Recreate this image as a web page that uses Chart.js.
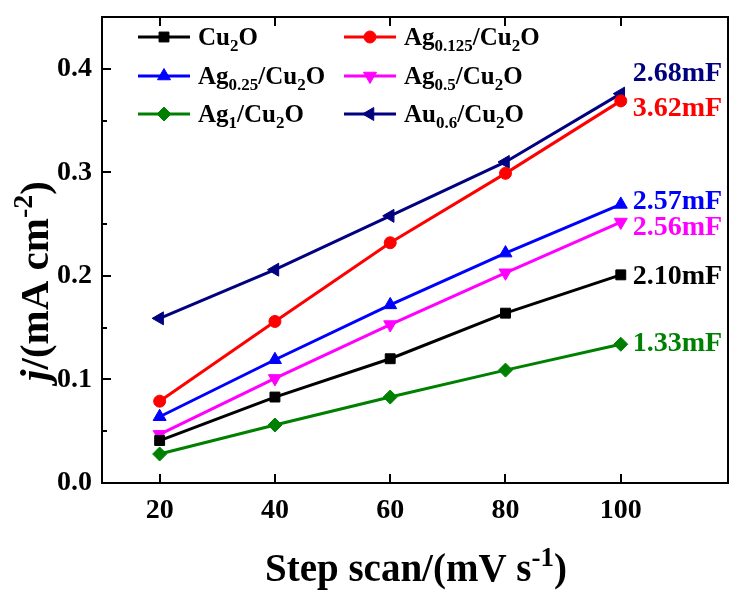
<!DOCTYPE html>
<html>
<head>
<meta charset="utf-8">
<script src="https://cdn.jsdelivr.net/npm/chart.js@4.4.1/dist/chart.umd.min.js"></script>
<style>
  html, body { margin: 0; padding: 0; background: #fff; }
  #wrap { width: 729px; height: 590px; position: relative; }
</style>
</head>
<body>
<div id="wrap"><canvas id="cvChart"></canvas></div>
<script>
// scan rates (mV/s)
const scanRates = [20, 40, 60, 80, 100];

// current density j (mA cm-2)
const cu2o    = [0.041, 0.083, 0.120, 0.164, 0.201];
const ag0125  = [0.079, 0.156, 0.232, 0.299, 0.369];
const ag025   = [0.064, 0.119, 0.172, 0.222, 0.269];
const ag05    = [0.047, 0.101, 0.153, 0.203, 0.252];
const ag1     = [0.028, 0.056, 0.083, 0.109, 0.134];
const au06    = [0.159, 0.206, 0.258, 0.310, 0.376];

const seriesNames = ['Cu_{2}O', 'Ag_{0.125}/Cu_{2}O', 'Ag_{0.25}/Cu_{2}O', 'Ag_{0.5}/Cu_{2}O', 'Ag_{1}/Cu_{2}O', 'Au_{0.6}/Cu_{2}O'];
const capLabels = ['2.10mF', '3.62mF', '2.57mF', '2.56mF', '1.33mF', '2.68mF'];

const xTicks = [20, 40, 60, 80, 100];
const yTicks = [0, 0.1, 0.2, 0.3, 0.4];
const yMinorTicks = [0.05, 0.15, 0.25, 0.35];

const FONT = '"Liberation Serif", "Times New Roman", serif';

const styles = [
	{ color: '#000000', pointStyle: 'rect', radius: 7, rotation: 0 },
	{ color: '#ff0000', pointStyle: 'circle', radius: 6, rotation: 0 },
	{ color: '#0000ff', pointStyle: 'triangle', radius: 7.5, rotation: 0 },
	{ color: '#ff00ff', pointStyle: 'triangle', radius: 7.5, rotation: 180 },
	{ color: '#008000', pointStyle: 'rectRot', radius: 7, rotation: 0 },
	{ color: '#000080', pointStyle: 'triangle', radius: 7.5, rotation: 270 },
];
const capOffsets = [0, 6, -5, 4, -2, -22];

const allSeries = [cu2o, ag0125, ag025, ag05, ag1, au06];

// parse "Cu_{2}O", "^{-2}", "*j*" into runs
function parseRich( str ) {
	const runs = [];
	const re = /_\{([^}]*)\}|\^\{([^}]*)\}|\*([^*]*)\*|([^_^*]+)/g;
	let m;
	while ( ( m = re.exec( str ) ) !== null ) {
		if ( m[1] !== undefined ) runs.push( { t: m[1], mode: 'sub' } );
		else if ( m[2] !== undefined ) runs.push( { t: m[2], mode: 'sup' } );
		else if ( m[3] !== undefined ) runs.push( { t: m[3], mode: 'it' } );
		else runs.push( { t: m[4], mode: '' } );
	}
	return runs;
}

function runFont( run, size ) {
	const s = run.mode === 'sub' || run.mode === 'sup' ? Math.round( size * 0.68 ) : size;
	return ( run.mode === 'it' ? 'italic ' : '' ) + 'bold ' + s + 'px ' + FONT;
}

// draws rich text; y is the vertical middle of capitals
function drawRich( ctx, str, x, y, size, color, align ) {
	const runs = parseRich( str );
	let total = 0;
	runs.forEach( ( r ) => {
		ctx.font = runFont( r, size );
		r.w = ctx.measureText( r.t ).width;
		total += r.w;
	} );
	let cx = align === 'center' ? x - total / 2 : x;
	const base = y + size * 0.33;
	ctx.fillStyle = color;
	ctx.textAlign = 'left';
	ctx.textBaseline = 'alphabetic';
	runs.forEach( ( r ) => {
		ctx.font = runFont( r, size );
		let dy = 0;
		if ( r.mode === 'sub' ) dy = size * 0.22;
		if ( r.mode === 'sup' ) dy = -size * 0.38;
		ctx.fillText( r.t, cx, base + dy );
		cx += r.w;
	} );
}

const decor = {
	id: 'decor',
	afterDraw( chart ) {
		const { ctx, chartArea: a } = chart;
		const xs = chart.scales.x;
		const ys = chart.scales.y;
		ctx.save();
		ctx.strokeStyle = '#000';
		ctx.lineWidth = 2;
		ctx.strokeRect( a.left, a.top, a.right - a.left, a.bottom - a.top );

		// inward tick marks
		ctx.beginPath();
		xTicks.forEach( ( v ) => {
			const px = Math.round( xs.getPixelForValue( v ) );
			ctx.moveTo( px, a.bottom );
			ctx.lineTo( px, a.bottom - 9 );
			ctx.moveTo( px, a.top );
			ctx.lineTo( px, a.top + 9 );
		} );
		yTicks.forEach( ( v ) => {
			const py = Math.round( ys.getPixelForValue( v ) );
			ctx.moveTo( a.left, py );
			ctx.lineTo( a.left + 9, py );
		} );
		yMinorTicks.forEach( ( v ) => {
			const py = Math.round( ys.getPixelForValue( v ) );
			ctx.moveTo( a.left, py );
			ctx.lineTo( a.left + 5, py );
		} );
		ctx.stroke();

		// legend, two columns
		chart.data.datasets.forEach( ( ds, i ) => {
			const col = i % 2;
			const row = Math.floor( i / 2 );
			const lx = [ 138, 344 ][col];
			const ly = [ 37, 76, 114 ][row];
			ctx.strokeStyle = ds.borderColor;
			ctx.lineWidth = 3;
			ctx.beginPath();
			ctx.moveTo( lx, ly );
			ctx.lineTo( lx + 52, ly );
			ctx.stroke();
			ctx.fillStyle = ds.backgroundColor;
			ctx.strokeStyle = ds.borderColor;
			ctx.lineWidth = 1;
			Chart.helpers.drawPoint( ctx, {
				pointStyle: ds.pointStyle,
				radius: ds.pointRadius,
				rotation: ds.pointRotation,
				borderWidth: 1,
			}, lx + 26, ly );
			drawRich( ctx, seriesNames[i], lx + 60, ly, 25, '#000', 'left' );
		} );

		// capacitance labels next to the last points
		chart.data.datasets.forEach( ( ds, i ) => {
			const last = ds.data[ds.data.length - 1];
			const px = xs.getPixelForValue( last.x ) + 12;
			const py = ys.getPixelForValue( last.y ) + capOffsets[i];
			drawRich( ctx, capLabels[i], px, py, 28, ds.borderColor, 'left' );
		} );

		// axis titles
		drawRich( ctx, 'Step scan/(mV s^{-1})', 416, 568, 39, '#000', 'center' );
		ctx.translate( 34, 281 );
		ctx.rotate( -Math.PI / 2 );
		drawRich( ctx, '*j*/(mA cm^{-2})', 0, 0, 41, '#000', 'center' );
		ctx.restore();
	},
};

const datasets = allSeries.map( ( vals, i ) => ( {
	label: seriesNames[i],
	data: scanRates.map( ( x, k ) => ( { x, y: vals[k] } ) ),
	borderColor: styles[i].color,
	backgroundColor: styles[i].color,
	borderWidth: 3,
	pointStyle: styles[i].pointStyle,
	pointRadius: styles[i].radius,
	pointRotation: styles[i].rotation,
	pointBorderWidth: 1,
	tension: 0,
} ) );

const tickFont = { family: FONT, size: 28, weight: 'bold' };

// no automatic label padding around the plot area
function noPad( s ) {
	s.paddingTop = 0;
	s.paddingBottom = 0;
	s.paddingLeft = 0;
	s.paddingRight = 0;
}

new Chart( document.getElementById( 'cvChart' ), {
	type: 'line',
	data: { datasets },
	options: {
		responsive: true,
		maintainAspectRatio: false,
		animation: false,
		layout: { autoPadding: false, padding: { top: 17, right: 1, left: 0, bottom: 0 } },
		plugins: {
			legend: { display: false },
			tooltip: { enabled: false },
		},
		scales: {
			x: {
				type: 'linear',
				min: 10,
				max: 118.6,
				grid: { display: false, drawTicks: false },
				border: { display: true, color: '#000', width: 2 },
				ticks: { font: tickFont, color: '#000', padding: 11, maxRotation: 0, autoSkip: false },
				afterBuildTicks: ( s ) => {
					s.ticks = xTicks.map( ( v ) => ( { value: v } ) );
				},
				afterFit: ( s ) => {
					s.height = 107;
					noPad( s );
				},
			},
			y: {
				min: 0,
				max: 0.45,
				grid: { display: false, drawTicks: false },
				border: { display: true, color: '#000', width: 2 },
				ticks: {
					font: tickFont,
					color: '#000',
					padding: 10,
					callback: ( v ) => v.toFixed( 1 ),
				},
				afterBuildTicks: ( s ) => {
					s.ticks = yTicks.map( ( v ) => ( { value: v } ) );
				},
				afterFit: ( s ) => {
					s.width = 102;
					noPad( s );
				},
			},
		},
	},
	plugins: [ decor ],
} );
</script>
</body>
</html>
